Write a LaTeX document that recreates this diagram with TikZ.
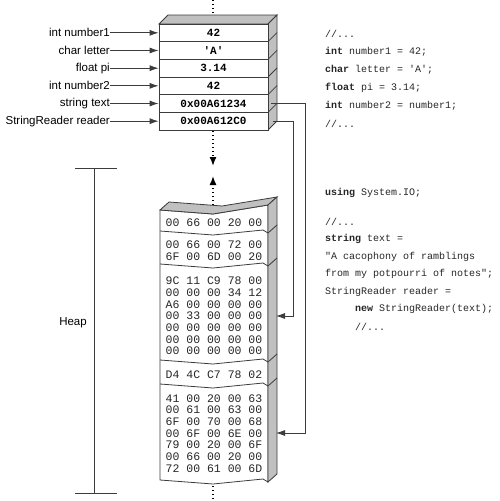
\documentclass[tikz,border=0pt]{standalone}
\usepackage{fontspec}
\setmainfont{Liberation Sans}
\newfontfamily\codefont[Ligatures=TeXOff]{Liberation Mono}
\usetikzlibrary{arrows.meta}
\definecolor{sidegray}{RGB}{192,192,192}
\definecolor{linec}{RGB}{60,60,60}
\begin{document}
\begin{tikzpicture}[x=1pt,y=-1pt,
  lbl/.style={anchor=east,font=\fontsize{11.5}{13}\selectfont,inner sep=0pt},
  cell/.style={draw=linec,line width=0.8pt,minimum width=109pt,minimum height=17.67pt,inner sep=0pt,font=\codefont\bfseries\fontsize{11}{12}\selectfont,fill=white},
  ptr/.style={draw=linec,line width=0.8pt,-{Latex[length=9pt,width=6pt]}},
  hex/.style={font=\codefont\fontsize{11.5}{11.7}\selectfont,align=left,inner sep=0pt,text=black!85},
  code/.style={anchor=west,font=\codefont\fontsize{10}{12}\selectfont,inner sep=0pt,text=black!85},
  edge/.style={draw=linec,line width=0.8pt},
  dots/.style={draw=black,line width=1.4pt,dash pattern=on 1.4pt off 2.6pt}
]
\useasboundingbox (0,0) rectangle (500,501);

% ---------- stack ----------
\filldraw[edge,fill=sidegray] (159,24) -- (168,15) -- (277,15) -- (268,24) -- cycle;
\filldraw[edge,fill=sidegray] (268,24) -- (277,15) -- (277,121) -- (268,130) -- cycle;
\foreach \y in {41.67,59.33,77,94.67,112.33}
  \draw[edge] (268,\y) -- (277,\y-9);
\node[cell] (s1) at (213.5,32.83) {42};
\node[cell] (s2) at (213.5,50.5) {'A'};
\node[cell] (s3) at (213.5,68.17) {3.14};
\node[cell] (s4) at (213.5,85.83) {42};
\node[cell] (s5) at (213.5,103.5) {0x00A61234};
\node[cell] (s6) at (213.5,121.17) {0x00A612C0};

\node[lbl] (l1) at (110,32.83) {int number1};
\node[lbl] (l2) at (110,50.5) {char letter};
\node[lbl] (l3) at (110,68.17) {float pi};
\node[lbl] (l4) at (110,85.83) {int number2};
\node[lbl] (l5) at (110,103.5) {string text};
\node[lbl] (l6) at (110,121.17) {StringReader reader};
\foreach \i in {1,...,6}
  \draw[ptr] (l\i.east) -- (s\i.west);

% dotted lines
\coordinate (d0) at (213,0);
\coordinate (d1) at (213,15);
\coordinate (d2) at (213,131);
\coordinate (d3) at (213,166);
\coordinate (d4) at (213,209);
\coordinate (d5) at (213,176);
\coordinate (d6) at (213,486);
\coordinate (d7) at (213,501);
\draw[dots] (d0) -- (d1);
\draw[dots,-{Latex[length=9pt,width=7pt]}] (d2) -- (d3);
\draw[dots,-{Latex[length=9pt,width=7pt]}] (d4) -- (d5);
\draw[dots] (d6) -- (d7);

% ---------- heap ----------
\filldraw[edge,fill=white] (160,210) -- (213,214) -- (268,205) -- (268,482) -- (263,479) -- (213,484) -- (160,480) -- cycle;
\filldraw[edge,fill=sidegray] (160,210) -- (213,214) -- (268,205) -- (277,197) -- (222,206) -- (169,202) -- cycle;
\filldraw[edge,fill=sidegray] (268,205) -- (277,197) -- (277,474) -- (268,482) -- cycle;
\foreach \y in {231,264,360,384}
  \draw[edge] (160,\y) -- (213,\y+4) -- (263,\y-1) -- (268,\y+2) -- (277,\y-6);

\node[hex] (h1) at (214,223) {00 66 00 20 00};
\node[hex] (h2) at (214,251) {00 66 00 72 00\\6F 00 6D 00 20};
\node[hex] (h3) at (214,316) {9C 11 C9 78 00\\00 00 00 34 12\\A6 00 00 00 00\\00 33 00 00 00\\00 00 00 00 00\\00 00 00 00 00\\00 00 00 00 00};
\node[hex] (h4) at (214,375) {D4 4C C7 78 02};
\node[hex] (h5) at (214,433.5) {41 00 20 00 63\\00 61 00 63 00\\6F 00 70 00 68\\00 6F 00 6E 00\\79 00 20 00 6F\\00 66 00 20 00\\72 00 61 00 6D};

% pointers
\coordinate (p5) at (271,103.5);
\coordinate (p6) at (273,121.17);
\coordinate (t5) at (276,433);
\coordinate (t3) at (276,316);
\draw[ptr] (p5) -- ++(34,0) |- (t5);
\draw[ptr] (p6) -- ++(20,0) |- (t3);

% heap bracket
\coordinate (b1) at (94,168);
\coordinate (b2) at (94,493);
\draw[edge] (75,168) -- (117,168);
\draw[edge] (75,493) -- (117,493);
\draw[edge] (b1) -- (b2);
\node[font=\fontsize{11.5}{13}\selectfont] (heap) at (73,323) {Heap};

% ---------- code ----------
\node[code] (c1) at (325,34) {//...};
\node[code] (c2) at (325,52) {\textbf{int} number1 = 42;};
\node[code] (c3) at (325,69.5) {\textbf{char} letter = 'A';};
\node[code] (c4) at (325,87.5) {\textbf{float} pi = 3.14;};
\node[code] (c5) at (325,105.5) {\textbf{int} number2 = number1;};
\node[code] (c6) at (325,123.5) {//...};
\node[code] (c7) at (325,193) {\textbf{using} System.IO;};
\node[code] (c8) at (325,222) {//...};
\node[code] (c9) at (325,239) {\textbf{string} text =};
\node[code] (c10) at (325,256.5) {"A cacophony of ramblings};
\node[code] (c11) at (325,274) {from my potpourri of notes";};
\node[code] (c12) at (325,291.5) {StringReader reader =};
\node[code] (c13) at (355,309) {\textbf{new} StringReader(text);};
\node[code] (c14) at (355,327) {//...};
\end{tikzpicture}
\end{document}
